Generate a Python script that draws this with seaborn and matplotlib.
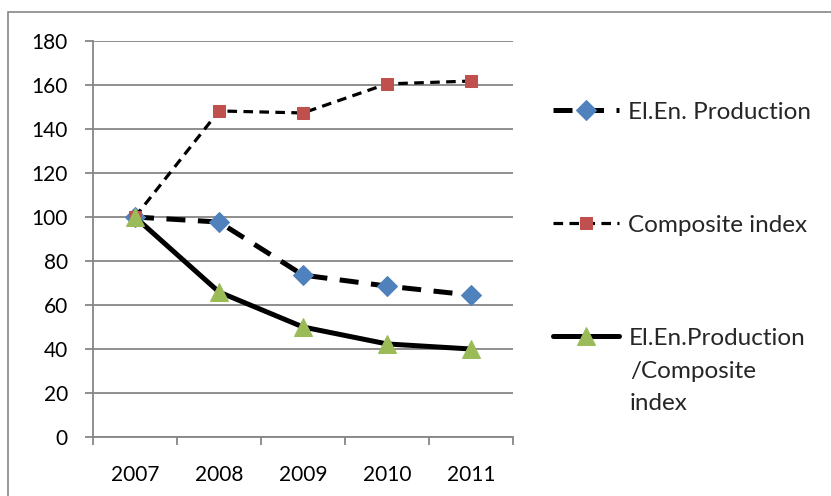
import matplotlib
matplotlib.use("Agg")
import matplotlib.pyplot as plt
from matplotlib.patches import Rectangle
import seaborn as sns
import pandas as pd

years = ["2007", "2008", "2009", "2010", "2011"]
production = [100, 97.7, 73.6, 68.6, 64.5]
composite = [100, 148.2, 147.3, 160.5, 161.8]
ratio = [100, 65.9, 50.0, 42.3, 40.0]
series_names = ["El.En. Production", "Composite index", "El.En.Production /Composite index"]
y_ticks = [0, 20, 40, 60, 80, 100, 120, 140, 160, 180]

sns.set_theme(style="white")
plt.rcParams["font.family"] = ["Lato", "DejaVu Sans"]

W, H = 831, 496
fig = plt.figure(figsize=(W / 100, H / 100), dpi=100)
ax = fig.add_axes([93 / W, 1 - 437 / H, (513 - 93) / W, (437 - 41) / H])

df = pd.DataFrame({"pos": range(len(years)), "year": years,
                   "production": production, "composite": composite, "ratio": ratio})

grey = "#868686"
blue, red, green = "#4F81BD", "#C0504D", "#9BBB59"

sns.lineplot(data=df, x="pos", y="production", ax=ax, color="black", linewidth=3.6,
             marker="D", markersize=10.5, markerfacecolor=blue, markeredgecolor=blue,
             label=series_names[0], legend=False)
sns.lineplot(data=df, x="pos", y="composite", ax=ax, color="black", linewidth=2.3,
             marker="s", markersize=9, markerfacecolor=red, markeredgecolor=red,
             label=series_names[1], legend=False)
sns.lineplot(data=df, x="pos", y="ratio", ax=ax, color="black", linewidth=3.6,
             marker="^", markersize=13.5, markerfacecolor=green, markeredgecolor=green,
             label=series_names[2], legend=False)

lines = ax.get_lines()
lines[0].set_dashes((3.8, 2.5))
lines[1].set_dashes((3.0, 2.0))

ax.set_xlim(-0.5, len(years) - 0.5)
ax.set_ylim(0, 180)
ax.set_yticks(y_ticks)
ax.set_xticks(range(len(years)))
ax.set_xticklabels(years)
ax.set_xticks([i - 0.5 for i in range(len(years) + 1)], minor=True)
ax.set_xlabel("")
ax.set_ylabel("")

ax.grid(False)
ax.yaxis.grid(True, color=grey, linewidth=1.3)
ax.set_axisbelow(True)
for side in ("top", "right"):
    ax.spines[side].set_visible(False)
for side in ("left", "bottom"):
    ax.spines[side].set_color(grey)
    ax.spines[side].set_linewidth(1.3)

ax.tick_params(axis="y", which="major", left=True, length=6, width=1.3, color=grey,
               direction="out", pad=12, labelsize=15)
ax.tick_params(axis="x", which="major", bottom=False, length=0, pad=20, labelsize=15)
ax.tick_params(axis="x", which="minor", bottom=True, length=6, width=1.3, color=grey,
               direction="out")
for lab in ax.get_xticklabels() + ax.get_yticklabels():
    lab.set_color("black")

# outer chart border
fig.patches.append(Rectangle((8 / W, -0.05), 1.2, 1 - 12 / H + 0.05,
                             transform=fig.transFigure, fill=False,
                             edgecolor=grey, linewidth=1.2))

# legend entries, one per series, stacked at the right
leg_fs = 17.5
handles = ax.get_lines()
first_lines = [series_names[0], series_names[1], "El.En.Production"]
y_centers = [112, 225, 338]
for h, lab, yc in zip(handles, first_lines, y_centers):
    fig.legend([h], [lab], loc="center left",
               bbox_to_anchor=(553 / W, 1 - yc / H),
               frameon=False, fontsize=leg_fs, borderpad=0, borderaxespad=0,
               handlelength=2.7, handletextpad=0.4, numpoints=1)
fig.text(630 / W, 1 - 371 / H, "/Composite", fontsize=leg_fs, va="center", ha="left")
fig.text(630 / W, 1 - 404 / H, "index", fontsize=leg_fs, va="center", ha="left")

fig.savefig("out.png", dpi=100)
